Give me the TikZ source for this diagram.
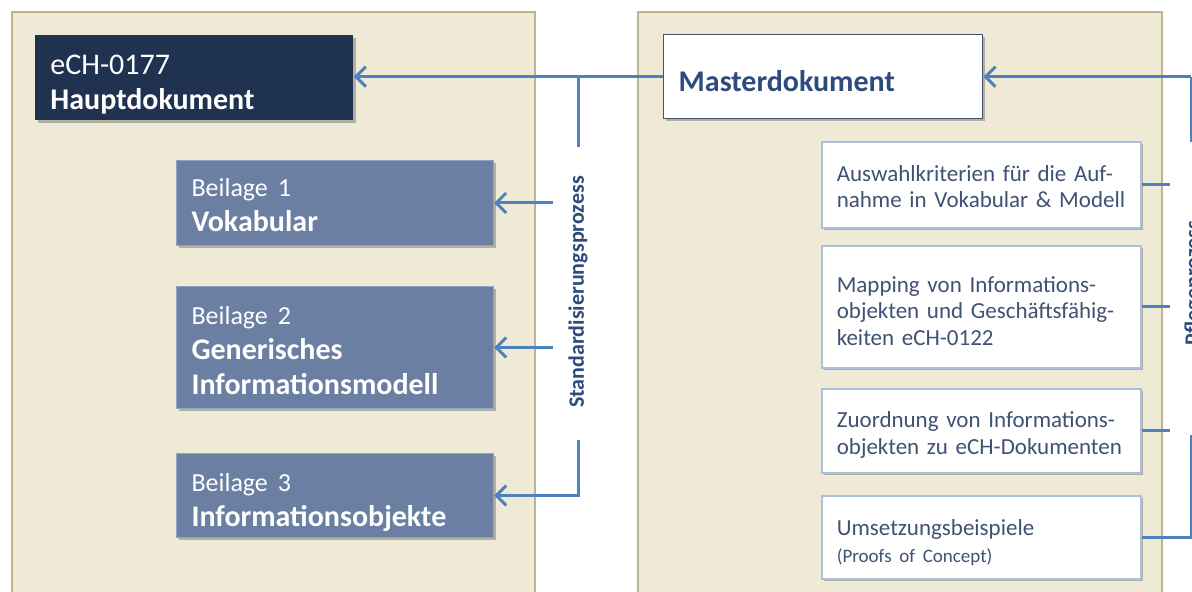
\documentclass[tikz,border=0pt]{standalone}
\usepackage{fontspec}
\setmainfont{Carlito}
\usetikzlibrary{arrows.meta,shadows}

\definecolor{panelfill}{HTML}{EFEAD6}
\definecolor{panelline}{HTML}{BDB38C}
\definecolor{navy}{HTML}{1F3350}
\definecolor{slate}{HTML}{6A7FA2}
\definecolor{slateline}{HTML}{8FA3C4}
\definecolor{flow}{HTML}{4F81BD}
\definecolor{boxline}{HTML}{A9C0DE}
\definecolor{boxtext}{HTML}{3F5273}
\definecolor{headtext}{HTML}{2D4B7E}
\definecolor{masterline}{HTML}{44546A}

% an invisible strut a little taller than the first line, so that the
% text block sits slightly below the middle of its box
\newcommand\sinkstrut[1]{\rule{0pt}{\dimexpr\fontcharht\font`l+#1\relax}}

\tikzset{
  panel/.style={fill=panelfill, draw=panelline, line width=1pt},
  softshadow/.style={drop shadow={shadow xshift=1.2pt, shadow yshift=-1.2pt, fill=black, opacity=0.25}},
  sink/.style={execute at begin node={\sinkstrut{#1}}},
  doc/.style={anchor=north west, align=left, inner xsep=7.5pt, inner ysep=0pt,
    font=\fontsize{15}{17.5}\selectfont, text=white, softshadow},
  maindoc/.style={doc, fill=navy, minimum width=159pt, text width=144pt},
  annex/.style={doc, fill=slate, draw=slateline, line width=0.5pt,
    minimum width=158.5pt, text width=143.5pt},
  master/.style={doc, fill=white, draw=masterline, line width=0.7pt, text=headtext,
    minimum width=159.5pt, minimum height=42pt, text width=144.5pt,
    font=\bfseries\fontsize{15}{17.5}\selectfont},
  task/.style={doc, fill=white, draw=boxline, line width=0.8pt, text=boxtext,
    minimum width=159.5pt, text width=144.5pt, font=\fontsize{11.5}{13.3}\selectfont},
  proc/.style={rotate=90, text=headtext, font=\bfseries\fontsize{11}{13}\selectfont},
  flow/.style={draw=flow, line width=1.5pt},
  tip/.style={-{Straight Barb[length=5pt, width=10pt]}}
}

\begin{document}
\begin{tikzpicture}[x=0.5pt, y=-0.5pt]
  \useasboundingbox (0,0) rectangle (1192,592);
  \clip (0,0) rectangle (1192,592);
  \fill[white] (0,0) rectangle (1192,592);

  % the two working areas
  \draw[panel] (12,12) rectangle (535,620);
  \draw[panel] (638,12) rectangle (1162,620);

  % published documents
  \node[maindoc, minimum height=42.5pt, sink=6pt] (haupt) at (35,35)
    {eCH-0177\\\textbf{Hauptdokument}};
  \node[annex, minimum height=42.5pt, sink=0.5pt] (b1) at (176,160)
    {{\fontsize{13}{17.5}\selectfont Beilage 1}\\\textbf{Vokabular}};
  \node[annex, minimum height=61pt, sink=1.5pt] (b2) at (176,286)
    {{\fontsize{13}{17.5}\selectfont Beilage 2}\\\textbf{Generisches}\\\textbf{Informationsmodell}};
  \node[annex, minimum height=42pt, sink=5.5pt] (b3) at (176,453)
    {{\fontsize{13}{17.5}\selectfont Beilage 3}\\\textbf{Informationsobjekte}};

  % master document and its parts
  \node[master, sink=4pt] (master) at (663,34) {Masterdokument};
  \node[task, minimum height=43pt, sink=2pt] (r1) at (821,141)
    {Auswahlkriterien für die Auf-\\nahme in Vokabular \& Modell};
  \node[task, minimum height=61pt, sink=4pt] (r2) at (821,245)
    {Mapping von Informations-\\objekten und Geschäftsfähig-\\keiten eCH-0122};
  \node[task, minimum height=42pt, sink=4pt] (r3) at (821,388)
    {Zuordnung von Informations-\\objekten zu eCH-Dokumenten};
  \node[task, minimum height=41.5pt, sink=5pt] (r4) at (821,495)
    {Umsetzungsbeispiele\\{\fontsize{9.5}{12}\selectfont (Proofs of Concept)}};

  % process labels
  \node[proc] (std) at (578,292) {Standardisierungsprozess};
  \node[proc] (pflege) at (1194,283) {Pflegeprozess};

  % standardisation process: master -> published documents
  \coordinate (stdtop) at (578,147);
  \coordinate (stdbot) at (578,440);
  \coordinate (stdstub) at (553,0);
  \draw[flow, tip] (master.west) -- (master.west -| haupt.east);
  \draw[flow] (stdtop) -- (stdtop |- master.west);
  \draw[flow, tip] (stdstub |- b1.east) -- (b1.east);
  \draw[flow, tip] (stdstub |- b2.east) -- (b2.east);
  \draw[flow, tip, line join=miter] (stdbot) |- (b3.east);

  % maintenance process: parts -> master
  \coordinate (pfltop) at (1191,142);
  \coordinate (pflbot) at (1191,435);
  \coordinate (pflstub) at (1170,0);
  \draw[flow, tip] (pfltop |- master.east) -- (master.east);
  \draw[flow] (pfltop) -- (pfltop |- master.east);
  \draw[flow] (r1.east) -- (r1.east -| pflstub);
  \draw[flow] (r2.east) -- (r2.east -| pflstub);
  \draw[flow] (r3.east) -- (r3.east -| pflstub);
  \draw[flow, line join=miter] (r4.east) -| (pflbot);
\end{tikzpicture}
\end{document}
